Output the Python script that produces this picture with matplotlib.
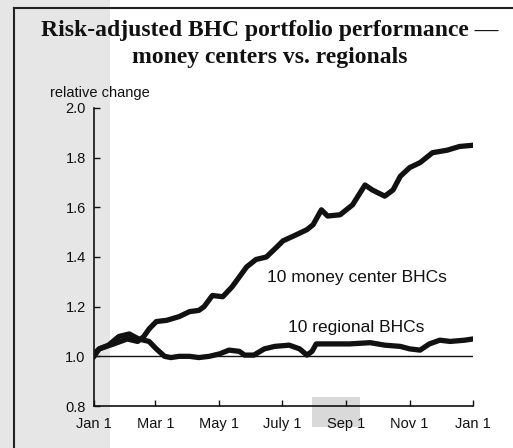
import matplotlib
matplotlib.use('Agg')
import matplotlib.pyplot as plt
from matplotlib.patches import Rectangle
from matplotlib.lines import Line2D

# day of year for each reading
money_days = [0, 5, 19, 32, 42, 48, 53, 60, 70, 82, 92, 101, 106, 114, 124, 133, 140,
              147, 156, 166, 176, 182, 195, 205, 211, 219, 225, 237, 249, 261, 268,
              280, 288, 295, 304, 314, 326, 340, 352, 365]
money_vals = [1.01, 1.03, 1.05, 1.07, 1.06, 1.08, 1.11, 1.14, 1.145, 1.16, 1.18, 1.185,
              1.2, 1.245, 1.24, 1.28, 1.32, 1.36, 1.39, 1.40, 1.44, 1.465, 1.49, 1.51,
              1.53, 1.59, 1.565, 1.57, 1.61, 1.69, 1.67, 1.645, 1.67, 1.725, 1.76,
              1.78, 1.82, 1.83, 1.845, 1.85]

regional_days = [0, 5, 14, 24, 34, 43, 53, 60, 68, 74, 82, 92, 101, 111, 121, 130, 140,
                 145, 154, 164, 174, 188, 198, 205, 210, 214, 227, 246, 266, 280, 295,
                 304, 314, 323, 333, 343, 357, 365]
regional_vals = [1.0, 1.03, 1.045, 1.08, 1.09, 1.07, 1.06, 1.03, 1.0, 0.995, 1.0, 1.0,
                 0.995, 1.0, 1.01, 1.025, 1.02, 1.005, 1.005, 1.03, 1.04, 1.045, 1.03,
                 1.005, 1.02, 1.05, 1.05, 1.05, 1.055, 1.045, 1.04, 1.03, 1.025, 1.05,
                 1.065, 1.06, 1.065, 1.07]

tick_days = [0, 59, 120, 181, 243, 304, 365]
tick_labels = ['Jan 1', 'Mar 1', 'May 1', 'July 1', 'Sep 1', 'Nov 1', 'Jan 1']
y_ticks = [0.8, 1.0, 1.2, 1.4, 1.6, 1.8, 2.0]

plt.rcParams['font.family'] = ['Liberation Sans', 'DejaVu Sans']

fig = plt.figure(figsize=(5.13, 4.48), dpi=100)
W, H = 513, 448

# scan background: grey band on the left and a patch near Sep
fig.patches.append(Rectangle((0, 0), 110 / W, 1, transform=fig.transFigure,
                             facecolor='#e6e6e6', edgecolor='none', zorder=-10))
fig.patches.append(Rectangle((312 / W, 1 - 427 / H), 48 / W, 30 / H, transform=fig.transFigure,
                             facecolor='#d9d9d9', edgecolor='none', zorder=-10))
# page frame lines (top and left)
fig.lines.append(Line2D([14 / W, 14 / W], [0, 1 - 8 / H], transform=fig.transFigure,
                        color='#222222', lw=1.5))
fig.lines.append(Line2D([14 / W, 1], [1 - 8 / H, 1 - 8 / H], transform=fig.transFigure,
                        color='#222222', lw=1.5))

ax = fig.add_axes([94 / W, 1 - 406 / H, 379 / W, 298 / H])
ax.set_facecolor('none')

ax.plot(money_days, money_vals, color='#111111', lw=3.8, solid_joinstyle='round')
ax.plot(regional_days, regional_vals, color='#111111', lw=3.8, solid_joinstyle='round')
ax.plot([0, 365], [1.0, 1.0], color='#111111', lw=1.0)

ax.set_xlim(0, 365)
ax.set_ylim(0.8, 2.0)
ax.set_xticks(tick_days)
ax.set_xticklabels(tick_labels)
ax.set_yticks(y_ticks)
ax.set_yticklabels(['%.1f' % v for v in y_ticks])
ax.tick_params(direction='in', length=4, width=1, labelsize=10.5, pad=6, colors='#111111')
ax.tick_params(axis='x', pad=8)
for s in ['top', 'right']:
    ax.spines[s].set_visible(False)
for s in ['left', 'bottom']:
    ax.spines[s].set_linewidth(1.2)
    ax.spines[s].set_color('#111111')

ax.text(0.456, 0.43, '10 money center BHCs', transform=ax.transAxes, fontsize=12.5,
        ha='left', va='center', color='#111111')
ax.text(0.512, 0.262, '10 regional BHCs', transform=ax.transAxes, fontsize=12.5,
        ha='left', va='center', color='#111111')

fig.text(50 / W, 1 - 93 / H, 'relative change', fontsize=10.5, ha='left', va='center',
         color='#111111')
fig.text(270 / W, 1 - 44 / H, 'Risk-adjusted BHC portfolio performance \u2014\nmoney centers vs. regionals',
         family='Liberation Serif', fontweight='bold', fontsize=17, ha='center', va='center',
         linespacing=1.35, color='#111111')

fig.savefig('out.png', dpi=100)
